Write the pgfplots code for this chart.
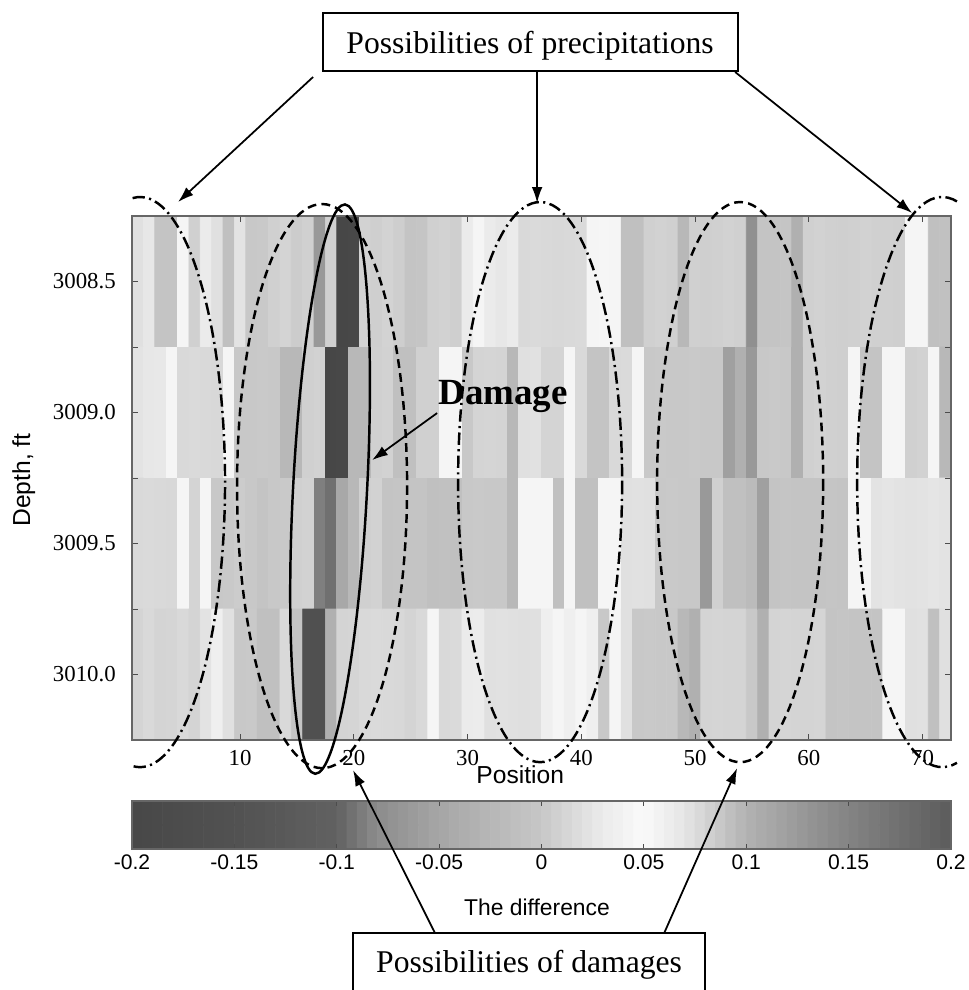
\documentclass[border=0pt]{standalone}
\usepackage{fontspec}
\setmainfont{Liberation Serif}
\setsansfont{Liberation Sans}
\usepackage{pgfplots}
\pgfplotsset{compat=1.18}
\usetikzlibrary{arrows.meta}
\pgfplotsset{
  colormap={scan}{gray(0cm)=(0.28); gray(5cm)=(0.32); gray(10cm)=(0.38); gray(12cm)=(0.55); gray(15cm)=(0.65); gray(20cm)=(0.78); gray(23cm)=(0.92); gray(25cm)=(0.98); gray(27cm)=(0.90); gray(30cm)=(0.70); gray(34cm)=(0.55); gray(40cm)=(0.36)}
}
\begin{document}
\begin{tikzpicture}
\path[use as bounding box] (0,0) rectangle (19.38cm,-19.8cm);
\begin{axis}[
  at={(2.64cm,-4.32cm)}, anchor=north west,
  scale only axis, width=16.38cm, height=10.48cm,
  xmin=0.5, xmax=72.5, ymin=3008.25, ymax=3010.25, y dir=reverse,
  enlargelimits=false,
  xtick={10,20,...,70}, ytick={3008.5,3009,3009.5,3010},
  minor ytick={3008.75,3009.25,3009.75},
  tick align=inside, tick pos=both,
  major tick length=0.12cm, minor tick length=0.12cm,
  tick style={black!70, line width=0.5pt},
  axis line style={black!60, line width=0.6pt},
  /pgf/number format/assume math mode=true,
  ticklabel style={font=\fontsize{13}{15}\selectfont},
  xticklabel style={yshift=-0.08cm},
  yticklabel style={/pgf/number format/fixed, /pgf/number format/fixed zerofill, /pgf/number format/precision=1, /pgf/number format/1000 sep={}, xshift=-0.2cm},
  xlabel={Position},
  xlabel style={font=\sffamily\fontsize{14}{16}\selectfont, at={(axis description cs:0.474,-0.066)}, anchor=center},
  ylabel={Depth, ft},
  ylabel style={font=\sffamily\fontsize{14}{16}\selectfont, at={(axis description cs:-0.132,0.496)}, anchor=center},
  colormap name=scan, point meta min=-0.2, point meta max=0.2,
  axis on top,
]
\addplot[matrix plot*, mesh/cols=72, mesh/ordering=x varies, point meta=explicit] table[row sep=\\, meta=c] {
x y c\\
1 3008.5 0.021\\ 2 3008.5 0.027\\ 3 3008.5 -0.004\\ 4 3008.5 -0.005\\ 5 3008.5 0.043\\ 6 3008.5 0.008\\ 7 3008.5 0.031\\ 8 3008.5 0.021\\ 9 3008.5 -0.010\\ 10 3008.5 0.024\\
11 3008.5 0.001\\ 12 3008.5 0.002\\ 13 3008.5 0.008\\ 14 3008.5 0.011\\ 15 3008.5 0.004\\ 16 3008.5 0.008\\ 17 3008.5 -0.065\\ 18 3008.5 0.008\\ 19 3008.5 -0.200\\ 20 3008.5 -0.198\\
21 3008.5 0.009\\ 22 3008.5 0.007\\ 23 3008.5 0.010\\ 24 3008.5 0.006\\ 25 3008.5 -0.004\\ 26 3008.5 -0.003\\ 27 3008.5 0.008\\ 28 3008.5 0.009\\ 29 3008.5 0.007\\ 30 3008.5 0.031\\
31 3008.5 0.043\\ 32 3008.5 0.031\\ 33 3008.5 0.027\\ 34 3008.5 0.031\\ 35 3008.5 0.015\\ 36 3008.5 0.016\\ 37 3008.5 0.015\\ 38 3008.5 0.014\\ 39 3008.5 0.015\\ 40 3008.5 0.016\\
41 3008.5 0.043\\ 42 3008.5 0.045\\ 43 3008.5 0.043\\ 44 3008.5 -0.010\\ 45 3008.5 -0.011\\ 46 3008.5 0.008\\ 47 3008.5 0.009\\ 48 3008.5 0.008\\ 49 3008.5 -0.023\\ 50 3008.5 0.008\\
51 3008.5 0.007\\ 52 3008.5 0.008\\ 53 3008.5 0.009\\ 54 3008.5 0.008\\ 55 3008.5 -0.076\\ 56 3008.5 -0.004\\ 57 3008.5 -0.004\\ 58 3008.5 -0.003\\ 59 3008.5 -0.035\\ 60 3008.5 0.008\\
61 3008.5 0.009\\ 62 3008.5 0.008\\ 63 3008.5 0.007\\ 64 3008.5 0.008\\ 65 3008.5 0.009\\ 66 3008.5 0.008\\ 67 3008.5 0.008\\ 68 3008.5 0.007\\ 69 3008.5 0.043\\ 70 3008.5 0.044\\
71 3008.5 -0.010\\ 72 3008.5 -0.009\\
1 3009.0 0.024\\ 2 3009.0 0.027\\ 3 3009.0 0.028\\ 4 3009.0 0.043\\ 5 3009.0 0.015\\ 6 3009.0 0.016\\ 7 3009.0 0.015\\ 8 3009.0 0.014\\ 9 3009.0 0.043\\ 10 3009.0 0.001\\
11 3009.0 0.001\\ 12 3009.0 0.002\\ 13 3009.0 0.001\\ 14 3009.0 -0.023\\ 15 3009.0 -0.022\\ 16 3009.0 0.008\\ 17 3009.0 0.009\\ 18 3009.0 -0.200\\ 19 3009.0 -0.199\\ 20 3009.0 -0.023\\
21 3009.0 -0.022\\ 22 3009.0 0.008\\ 23 3009.0 0.009\\ 24 3009.0 -0.010\\ 25 3009.0 -0.010\\ 26 3009.0 0.008\\ 27 3009.0 0.008\\ 28 3009.0 0.043\\ 29 3009.0 0.044\\ 30 3009.0 0.001\\
31 3009.0 0.011\\ 32 3009.0 0.012\\ 33 3009.0 0.011\\ 34 3009.0 -0.023\\ 35 3009.0 0.021\\ 36 3009.0 0.022\\ 37 3009.0 0.011\\ 38 3009.0 0.011\\ 39 3009.0 0.043\\ 40 3009.0 0.015\\
41 3009.0 -0.004\\ 42 3009.0 -0.004\\ 43 3009.0 0.015\\ 44 3009.0 0.016\\ 45 3009.0 0.043\\ 46 3009.0 0.001\\ 47 3009.0 0.002\\ 48 3009.0 0.001\\ 49 3009.0 0.001\\ 50 3009.0 0.002\\
51 3009.0 0.001\\ 52 3009.0 0.001\\ 53 3009.0 -0.057\\ 54 3009.0 -0.035\\ 55 3009.0 -0.065\\ 56 3009.0 0.001\\ 57 3009.0 0.002\\ 58 3009.0 0.001\\ 59 3009.0 -0.035\\ 60 3009.0 0.008\\
61 3009.0 0.009\\ 62 3009.0 0.008\\ 63 3009.0 0.007\\ 64 3009.0 0.043\\ 65 3009.0 -0.004\\ 66 3009.0 -0.004\\ 67 3009.0 0.043\\ 68 3009.0 0.044\\ 69 3009.0 0.008\\ 70 3009.0 0.009\\
71 3009.0 0.043\\ 72 3009.0 -0.023\\
1 3009.5 0.015\\ 2 3009.5 0.016\\ 3 3009.5 0.015\\ 4 3009.5 0.014\\ 5 3009.5 0.043\\ 6 3009.5 0.011\\ 7 3009.5 0.043\\ 8 3009.5 0.001\\ 9 3009.5 0.002\\ 10 3009.5 0.004\\
11 3009.5 0.001\\ 12 3009.5 -0.004\\ 13 3009.5 0.001\\ 14 3009.5 0.002\\ 15 3009.5 0.008\\ 16 3009.5 0.009\\ 17 3009.5 -0.086\\ 18 3009.5 -0.093\\ 19 3009.5 -0.046\\ 20 3009.5 -0.023\\
21 3009.5 0.008\\ 22 3009.5 0.009\\ 23 3009.5 -0.004\\ 24 3009.5 -0.003\\ 25 3009.5 -0.004\\ 26 3009.5 -0.005\\ 27 3009.5 -0.010\\ 28 3009.5 -0.009\\ 29 3009.5 -0.010\\ 30 3009.5 0.001\\
31 3009.5 0.002\\ 32 3009.5 0.001\\ 33 3009.5 0.001\\ 34 3009.5 -0.023\\ 35 3009.5 0.043\\ 36 3009.5 0.044\\ 37 3009.5 0.043\\ 38 3009.5 -0.010\\ 39 3009.5 0.043\\ 40 3009.5 -0.010\\
41 3009.5 -0.011\\ 42 3009.5 0.043\\ 43 3009.5 0.044\\ 44 3009.5 0.021\\ 45 3009.5 0.022\\ 46 3009.5 0.021\\ 47 3009.5 0.001\\ 48 3009.5 0.002\\ 49 3009.5 0.001\\ 50 3009.5 0.001\\
51 3009.5 -0.065\\ 52 3009.5 0.008\\ 53 3009.5 -0.010\\ 54 3009.5 -0.011\\ 55 3009.5 -0.018\\ 56 3009.5 -0.057\\ 57 3009.5 -0.004\\ 58 3009.5 -0.003\\ 59 3009.5 -0.004\\ 60 3009.5 -0.005\\
61 3009.5 -0.004\\ 62 3009.5 -0.003\\ 63 3009.5 -0.004\\ 64 3009.5 0.043\\ 65 3009.5 0.044\\ 66 3009.5 0.024\\ 67 3009.5 0.025\\ 68 3009.5 0.024\\ 69 3009.5 0.023\\ 70 3009.5 0.024\\
71 3009.5 0.025\\ 72 3009.5 0.024\\
1 3010.0 0.011\\ 2 3010.0 0.015\\ 3 3010.0 0.011\\ 4 3010.0 0.012\\ 5 3010.0 0.015\\ 6 3010.0 0.011\\ 7 3010.0 0.024\\ 8 3010.0 0.036\\ 9 3010.0 0.021\\ 10 3010.0 0.001\\
11 3010.0 0.002\\ 12 3010.0 -0.010\\ 13 3010.0 -0.011\\ 14 3010.0 0.015\\ 15 3010.0 -0.004\\ 16 3010.0 -0.160\\ 17 3010.0 -0.158\\ 18 3010.0 -0.035\\ 19 3010.0 0.011\\ 20 3010.0 0.012\\
21 3010.0 0.015\\ 22 3010.0 0.016\\ 23 3010.0 0.015\\ 24 3010.0 0.014\\ 25 3010.0 0.011\\ 26 3010.0 0.015\\ 27 3010.0 0.043\\ 28 3010.0 0.015\\ 29 3010.0 0.016\\ 30 3010.0 0.031\\
31 3010.0 0.032\\ 32 3010.0 0.021\\ 33 3010.0 0.022\\ 34 3010.0 0.021\\ 35 3010.0 0.020\\ 36 3010.0 0.021\\ 37 3010.0 0.036\\ 38 3010.0 0.043\\ 39 3010.0 0.036\\ 40 3010.0 0.043\\
41 3010.0 0.036\\ 42 3010.0 0.001\\ 43 3010.0 0.043\\ 44 3010.0 0.021\\ 45 3010.0 0.001\\ 46 3010.0 0.002\\ 47 3010.0 0.001\\ 48 3010.0 0.001\\ 49 3010.0 -0.023\\ 50 3010.0 -0.035\\
51 3010.0 0.011\\ 52 3010.0 0.012\\ 53 3010.0 0.011\\ 54 3010.0 0.011\\ 55 3010.0 0.001\\ 56 3010.0 -0.035\\ 57 3010.0 0.011\\ 58 3010.0 0.012\\ 59 3010.0 0.011\\ 60 3010.0 0.011\\
61 3010.0 0.012\\ 62 3010.0 -0.004\\ 63 3010.0 -0.003\\ 64 3010.0 -0.004\\ 65 3010.0 -0.005\\ 66 3010.0 -0.004\\ 67 3010.0 0.043\\ 68 3010.0 0.044\\ 69 3010.0 0.021\\ 70 3010.0 0.022\\
71 3010.0 -0.010\\ 72 3010.0 0.021\\
};
\end{axis}
% colour scale
\begin{axis}[
  at={(2.64cm,-16.02cm)}, anchor=north west,
  scale only axis, width=16.38cm, height=0.96cm,
  xmin=-0.2, xmax=0.2, ymin=0, ymax=1, enlargelimits=false,
  ytick=\empty,
  xtick={-0.2,-0.15,-0.1,-0.05,0,0.05,0.1,0.15,0.2},
  xticklabels={-0.2,-0.15,-0.1,-0.05,0,0.05,0.1,0.15,0.2},
  xticklabel style={font=\sffamily\fontsize{12}{14}\selectfont},
  tick align=inside, xtick pos=both, major tick length=0.1cm,
  tick style={black!70, line width=0.5pt},
  axis line style={black!60, line width=0.6pt},
  xlabel={The difference},
  xlabel style={font=\sffamily\fontsize{13}{15}\selectfont, at={(axis description cs:0.4945,0)}, anchor=center, yshift=-1.16cm},
  colormap name=scan, point meta min=-0.2, point meta max=0.2,
  axis on top,
]
\addplot[matrix plot*, mesh/cols=80, mesh/ordering=x varies, point meta=x] table[row sep=\\] {
x y\\
-0.1975 0.25\\ -0.1925 0.25\\ -0.1875 0.25\\ -0.1825 0.25\\ -0.1775 0.25\\ -0.1725 0.25\\ -0.1675 0.25\\ -0.1625 0.25\\ -0.1575 0.25\\ -0.1525 0.25\\
-0.1475 0.25\\ -0.1425 0.25\\ -0.1375 0.25\\ -0.1325 0.25\\ -0.1275 0.25\\ -0.1225 0.25\\ -0.1175 0.25\\ -0.1125 0.25\\ -0.1075 0.25\\ -0.1025 0.25\\
-0.0975 0.25\\ -0.0925 0.25\\ -0.0875 0.25\\ -0.0825 0.25\\ -0.0775 0.25\\ -0.0725 0.25\\ -0.0675 0.25\\ -0.0625 0.25\\ -0.0575 0.25\\ -0.0525 0.25\\
-0.0475 0.25\\ -0.0425 0.25\\ -0.0375 0.25\\ -0.0325 0.25\\ -0.0275 0.25\\ -0.0225 0.25\\ -0.0175 0.25\\ -0.0125 0.25\\ -0.0075 0.25\\ -0.0025 0.25\\
0.0025 0.25\\ 0.0075 0.25\\ 0.0125 0.25\\ 0.0175 0.25\\ 0.0225 0.25\\ 0.0275 0.25\\ 0.0325 0.25\\ 0.0375 0.25\\ 0.0425 0.25\\ 0.0475 0.25\\
0.0525 0.25\\ 0.0575 0.25\\ 0.0625 0.25\\ 0.0675 0.25\\ 0.0725 0.25\\ 0.0775 0.25\\ 0.0825 0.25\\ 0.0875 0.25\\ 0.0925 0.25\\ 0.0975 0.25\\
0.1025 0.25\\ 0.1075 0.25\\ 0.1125 0.25\\ 0.1175 0.25\\ 0.1225 0.25\\ 0.1275 0.25\\ 0.1325 0.25\\ 0.1375 0.25\\ 0.1425 0.25\\ 0.1475 0.25\\
0.1525 0.25\\ 0.1575 0.25\\ 0.1625 0.25\\ 0.1675 0.25\\ 0.1725 0.25\\ 0.1775 0.25\\ 0.1825 0.25\\ 0.1875 0.25\\ 0.1925 0.25\\ 0.1975 0.25\\
-0.1975 0.75\\ -0.1925 0.75\\ -0.1875 0.75\\ -0.1825 0.75\\ -0.1775 0.75\\ -0.1725 0.75\\ -0.1675 0.75\\ -0.1625 0.75\\ -0.1575 0.75\\ -0.1525 0.75\\
-0.1475 0.75\\ -0.1425 0.75\\ -0.1375 0.75\\ -0.1325 0.75\\ -0.1275 0.75\\ -0.1225 0.75\\ -0.1175 0.75\\ -0.1125 0.75\\ -0.1075 0.75\\ -0.1025 0.75\\
-0.0975 0.75\\ -0.0925 0.75\\ -0.0875 0.75\\ -0.0825 0.75\\ -0.0775 0.75\\ -0.0725 0.75\\ -0.0675 0.75\\ -0.0625 0.75\\ -0.0575 0.75\\ -0.0525 0.75\\
-0.0475 0.75\\ -0.0425 0.75\\ -0.0375 0.75\\ -0.0325 0.75\\ -0.0275 0.75\\ -0.0225 0.75\\ -0.0175 0.75\\ -0.0125 0.75\\ -0.0075 0.75\\ -0.0025 0.75\\
0.0025 0.75\\ 0.0075 0.75\\ 0.0125 0.75\\ 0.0175 0.75\\ 0.0225 0.75\\ 0.0275 0.75\\ 0.0325 0.75\\ 0.0375 0.75\\ 0.0425 0.75\\ 0.0475 0.75\\
0.0525 0.75\\ 0.0575 0.75\\ 0.0625 0.75\\ 0.0675 0.75\\ 0.0725 0.75\\ 0.0775 0.75\\ 0.0825 0.75\\ 0.0875 0.75\\ 0.0925 0.75\\ 0.0975 0.75\\
0.1025 0.75\\ 0.1075 0.75\\ 0.1125 0.75\\ 0.1175 0.75\\ 0.1225 0.75\\ 0.1275 0.75\\ 0.1325 0.75\\ 0.1375 0.75\\ 0.1425 0.75\\ 0.1475 0.75\\
0.1525 0.75\\ 0.1575 0.75\\ 0.1625 0.75\\ 0.1675 0.75\\ 0.1725 0.75\\ 0.1775 0.75\\ 0.1825 0.75\\ 0.1875 0.75\\ 0.1925 0.75\\ 0.1975 0.75\\
};
\end{axis}
\begin{scope}[x=0.02cm, y=-0.02cm]
  \draw[line width=1.4pt, rotate around={-3:(330,489)}] (330,489) ellipse [x radius=37, y radius=285];
  \draw[line width=1.4pt, dash pattern=on 5pt off 3pt] (322,486) ellipse [x radius=85, y radius=282];
  \draw[line width=1.4pt, dash pattern=on 5pt off 3pt] (740,482) ellipse [x radius=83, y radius=280];
  \draw[line width=1.4pt, dash pattern=on 7pt off 2.5pt on 1.2pt off 2.5pt] (540,482) ellipse [x radius=82, y radius=280];
  \draw[line width=1.4pt, dash pattern=on 7pt off 2.5pt on 1.2pt off 2.5pt] (140,482) ++(-95:85 and 285) arc [start angle=-95, end angle=95, x radius=85, y radius=285];
  \draw[line width=1.4pt, dash pattern=on 7pt off 2.5pt on 1.2pt off 2.5pt] (942,482) ++(-80:85 and 285) arc [start angle=-80, end angle=-280, x radius=85, y radius=285];
  \draw[line width=0.9pt] (323,13) rectangle (738,71);
  \node[anchor=base, font=\fontsize{18}{20}\selectfont, inner sep=0pt] at (530,53) {Possibilities of precipitations};
  \draw[line width=0.9pt] (353,933) rectangle (705,1010);
  \node[anchor=base, font=\fontsize{18}{20}\selectfont, inner sep=0pt] at (529,972) {Possibilities of damages};
  \draw[line width=1pt, -{Latex[length=9pt,width=6pt]}] (313,77) -- (178,202);
  \draw[line width=1pt, -{Latex[length=9pt,width=6pt]}] (537,71) -- (537,203);
  \draw[line width=1pt, -{Latex[length=9pt,width=6pt]}] (735,72) -- (912,213);
  \draw[line width=1pt, -{Latex[length=9pt,width=6pt]}] (435,933) -- (353,770);
  \draw[line width=1pt, -{Latex[length=9pt,width=6pt]}] (664,933) -- (737,768);
  \node[anchor=base west, font=\bfseries\fontsize{21}{24}\selectfont, inner sep=0pt] at (438,404) {Damage};
  \draw[line width=1pt, -{Latex[length=9pt,width=6pt]}] (437,413) -- (372,460);
\end{scope}
\end{tikzpicture}
\end{document}
